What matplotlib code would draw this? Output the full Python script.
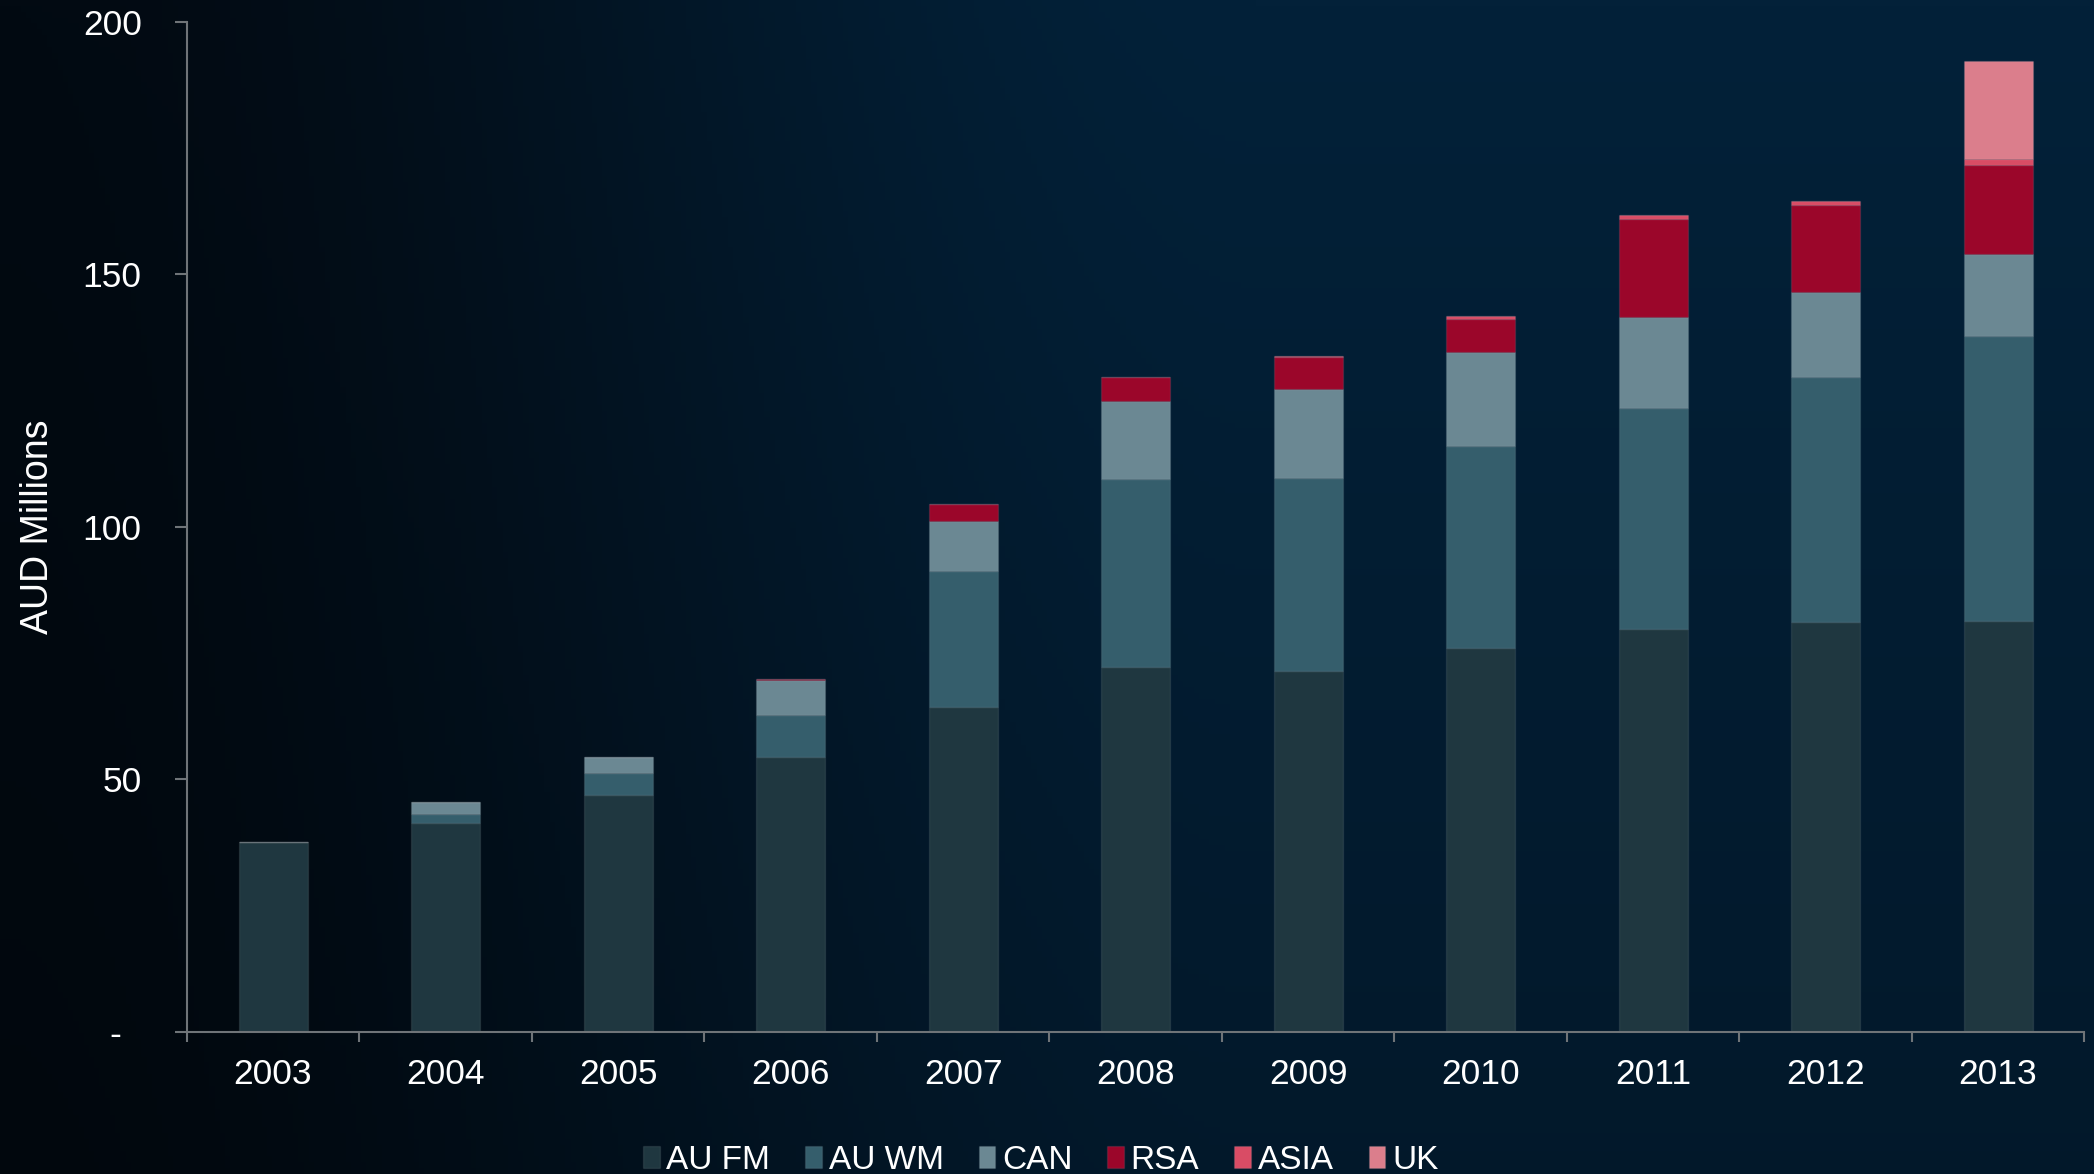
# Stacked revenue by business unit, 2003-2013
import numpy as np
import matplotlib
matplotlib.use('Agg')
import matplotlib.pyplot as plt

# --------------------------------------------------
# Data (AUD millions)
# --------------------------------------------------
years = ['2003', '2004', '2005', '2006', '2007', '2008',
         '2009', '2010', '2011', '2012', '2013']
au_fm = [37.7, 41.3, 47.0, 54.4, 64.3, 72.3, 71.4, 76.1, 79.7, 81.1, 81.3]
au_wm = [0.0, 1.9, 4.3, 8.4, 26.9, 37.2, 38.3, 39.9, 43.8, 48.5, 56.5]
can = [0.0, 2.3, 3.1, 6.8, 9.9, 15.4, 17.7, 18.6, 18.0, 16.9, 16.2]
rsa = [0.0, 0.0, 0.0, 0.2, 3.4, 4.8, 6.2, 6.5, 19.5, 17.2, 17.6]
asia = [0.0, 0.0, 0.0, 0.0, 0.0, 0.0, 0.2, 0.6, 0.8, 0.9, 1.3]
uk = [0.0, 0.0, 0.0, 0.0, 0.0, 0.0, 0.0, 0.0, 0.0, 0.0, 19.4]

series_names = ['AU FM', 'AU WM', 'CAN', 'RSA', 'ASIA', 'UK']
series_colors = ['#1f3740', '#355e6c', '#6b8893', '#9b062a', '#d94c65', '#db7e8c']

yticks = [0, 50, 100, 150, 200]
yticklabels = ['-  ', '50', '100', '150', '200']

plt.rcParams['font.family'] = ['Liberation Sans', 'DejaVu Sans']

# --------------------------------------------------
# Figure and background gradient
# --------------------------------------------------
fig = plt.figure(figsize=(20.94, 11.74), dpi=100)

bg_ax = fig.add_axes([0, 0, 1, 1], zorder=-1)
nx, ny = 400, 200
gx = np.linspace(0, 1, nx)[None, :]
gy = np.linspace(0, 1, ny)[:, None]
left_col = np.array([0x02, 0x0a, 0x12]) / 255
right_col = np.array([0x03, 0x21, 0x39]) / 255
t = np.clip(gx / 0.6, 0, 1)
t = t * t * (3 - 2 * t)
img = left_col[None, None, :] * (1 - t[..., None]) + right_col[None, None, :] * t[..., None]
# slightly darker towards the bottom
shade = 1.0 - 0.25 * gy
img = img * shade[..., None]
img = np.broadcast_to(img, (ny, nx, 3))
bg_ax.imshow(img, aspect='auto', extent=[0, 1, 0, 1], origin='upper')
bg_ax.set_axis_off()

# --------------------------------------------------
# Stacked bars
# --------------------------------------------------
ax = fig.add_axes([0.0892, 0.121, 0.9062, 0.8603])
ax.set_facecolor('none')

x = np.arange(len(years))
bar_w = 0.4
bottom = np.zeros(len(years))
handles = []
for vals, name, col in zip([au_fm, au_wm, can, rsa, asia, uk], series_names, series_colors):
    vals = np.array(vals)
    bars = ax.bar(x, vals, bar_w, bottom=bottom, color=col, label=name,
                  edgecolor=(1, 1, 1, 0.08), linewidth=1.0)
    handles.append(bars)
    bottom = bottom + vals

# --------------------------------------------------
# Axes styling
# --------------------------------------------------
axis_col = '#6f7478'
ax.set_xlim(-0.5, len(years) - 0.5)
ax.set_ylim(0, 200)

for side in ['top', 'right']:
    ax.spines[side].set_visible(False)
for side in ['left', 'bottom']:
    ax.spines[side].set_color(axis_col)
    ax.spines[side].set_linewidth(1.5)

# major x ticks sit between the years, labels on the minor ticks
ax.set_xticks(np.arange(-0.5, len(years), 1.0))
ax.set_xticklabels([])
ax.set_xticks(x, minor=True)
ax.set_xticklabels(years, minor=True)
ax.tick_params(axis='x', which='major', direction='out', length=7,
               width=1.5, color=axis_col)
ax.tick_params(axis='x', which='minor', length=0, pad=19,
               labelsize=25.5, labelcolor='white')

ax.set_yticks(yticks)
ax.set_yticklabels(yticklabels)
ax.tick_params(axis='y', direction='out', length=8.5, width=1.5,
               color=axis_col, pad=24, labelsize=25.5, labelcolor='white')

ax.set_ylabel('AUD Millions', fontsize=27, color='white')
ax.yaxis.set_label_coords(-0.069, 0.5)

# --------------------------------------------------
# Legend
# --------------------------------------------------
fig.legend(handles=handles, labels=series_names, loc='center',
           bbox_to_anchor=(0.497, 0.0115), ncol=6, frameon=False,
           fontsize=24, labelcolor='white',
           handlelength=0.5, handleheight=0.65, handletextpad=0.2,
           columnspacing=1.05, borderpad=0, borderaxespad=0)

fig.savefig('out.png', dpi=100)
